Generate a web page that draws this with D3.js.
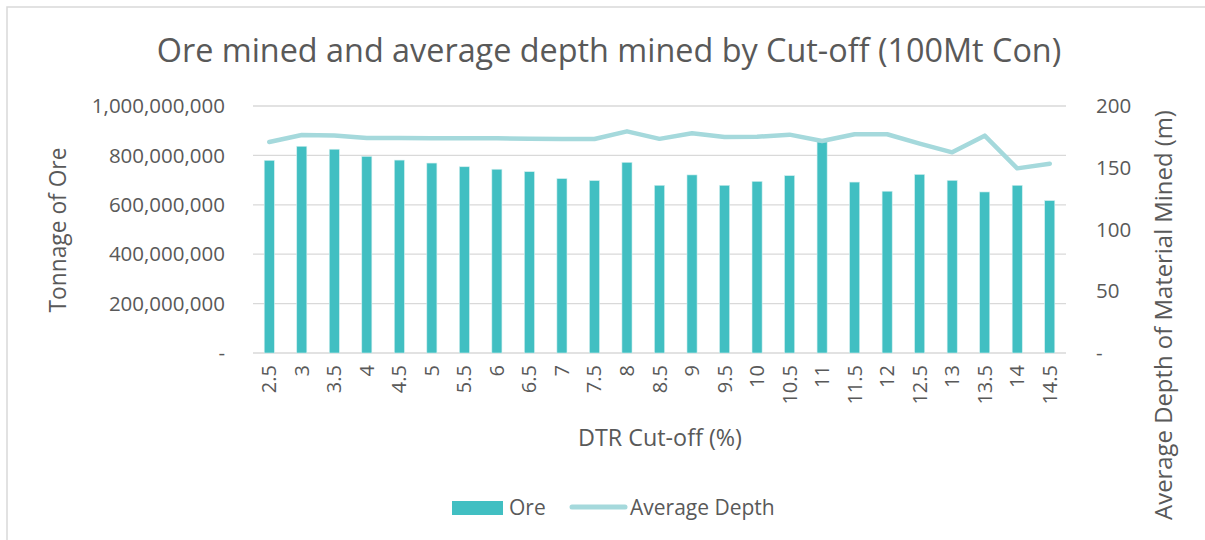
<!DOCTYPE html>
<html>
<head>
<meta charset="utf-8">
<script src="https://cdn.jsdelivr.net/npm/d3@7"></script>
<style>
  body { margin: 0; background: #fff; }
  text { font-family: "Open Sans", sans-serif; fill: #595959; }
</style>
</head>
<body>
<div id="chart"></div>
<script>
var cutoffs = ["2.5","3","3.5","4","4.5","5","5.5","6","6.5","7","7.5","8","8.5","9","9.5","10","10.5","11","11.5","12","12.5","13","13.5","14","14.5"];
var ore = [780e6, 837e6, 825e6, 796e6, 781e6, 769e6, 754e6, 744e6, 734e6, 706e6, 698e6, 772e6, 679e6,
  721e6, 679e6, 695e6, 718e6, 855e6, 692e6, 655e6, 723e6, 699e6, 652e6, 679e6, 617e6];
var depth = [170.9, 176.5, 176.2, 174.1, 174.0, 173.8, 173.8, 173.8, 173.5, 173.3, 173.3, 179.5, 173.4,
  177.9, 174.9, 175.1, 176.8, 171.7, 177.1, 177.1, 169.5, 162.5, 176.0, 149.5, 153.3];
var leftTicks = [0, 200e6, 400e6, 600e6, 800e6, 1000e6];
var rightTicks = [0, 50, 100, 150, 200];

var W = 1205, H = 540;
var plotL = 253, plotR = 1066, plotT = 106, plotB = 353;

var svg = d3.select("#chart").append("svg")
  .attr("width", W)
  .attr("height", H);

// fit a text's font size so it spans the given width
function fit(sel, width) {
  var fs = parseFloat(sel.attr("font-size"));
  var len = sel.node().getComputedTextLength();
  sel.attr("font-size", (fs * width / len) + "px");
}

// chart frame (runs off right and bottom edge)
svg.append("rect")
  .attr("x", 7).attr("y", 7)
  .attr("width", W + 10).attr("height", H + 10)
  .attr("fill", "#fff")
  .attr("stroke", "#d9d9d9")
  .attr("stroke-width", 1.5);

var x = d3.scaleBand().domain(cutoffs).range([plotL, plotR]).paddingInner(0.69).paddingOuter(0.345);
var yL = d3.scaleLinear().domain([0, 1e9]).range([plotB, plotT]);
var yR = d3.scaleLinear().domain([0, 200]).range([plotB, plotT]);

// gridlines
svg.append("g").selectAll("line")
  .data(leftTicks)
  .enter().append("line")
  .attr("x1", plotL).attr("x2", plotR)
  .attr("y1", function(d) { return yL(d); })
  .attr("y2", function(d) { return yL(d); })
  .attr("stroke", "#d9d9d9")
  .attr("stroke-width", 1.3);

var fmt = d3.format(",");
svg.append("g").selectAll("text")
  .data(leftTicks)
  .enter().append("text")
  .attr("x", 225)
  .attr("y", function(d) { return yL(d); })
  .attr("dy", "0.35em")
  .attr("text-anchor", "end")
  .attr("font-size", "20.5px")
  .text(function(d) { return d === 0 ? "-" : fmt(d); });

svg.append("g").selectAll("text")
  .data(rightTicks)
  .enter().append("text")
  .attr("x", 1096)
  .attr("y", function(d) { return yR(d); })
  .attr("dy", "0.35em")
  .attr("text-anchor", "start")
  .attr("font-size", "20.5px")
  .text(function(d) { return d === 0 ? "-" : d; });

// bars
svg.append("g").selectAll("rect")
  .data(ore)
  .enter().append("rect")
  .attr("x", function(d, i) { return x(cutoffs[i]); })
  .attr("y", function(d) { return yL(d); })
  .attr("width", x.bandwidth())
  .attr("height", function(d) { return plotB - yL(d); })
  .attr("fill", "#41bfc2")
  .attr("stroke", "#d2efef")
  .attr("stroke-width", 0.6);

// line
var line = d3.line()
  .x(function(d, i) { return x(cutoffs[i]) + x.bandwidth() / 2; })
  .y(function(d) { return yR(d); });

svg.append("path")
  .datum(depth)
  .attr("d", line)
  .attr("fill", "none")
  .attr("stroke", "#a5d9dc")
  .attr("stroke-width", 4.5)
  .attr("stroke-linejoin", "round")
  .attr("stroke-linecap", "round");

// x labels
svg.append("g").selectAll("text")
  .data(cutoffs)
  .enter().append("text")
  .attr("transform", function(d) {
    return "translate(" + (x(d) + x.bandwidth() / 2) + ",365) rotate(-90)";
  })
  .attr("dy", "0.35em")
  .attr("text-anchor", "end")
  .attr("font-size", "20px")
  .text(function(d) { return d; });

// titles
var title = svg.append("text")
  .attr("x", 609).attr("y", 62)
  .attr("text-anchor", "middle")
  .attr("font-size", "32px")
  .text("Ore mined and average depth mined by Cut-off (100Mt Con)");
fit(title, 905);

var xt = svg.append("text")
  .attr("x", 660).attr("y", 446)
  .attr("text-anchor", "middle")
  .attr("font-size", "23px")
  .text("DTR Cut-off (%)");
fit(xt, 164);

var ylt = svg.append("text")
  .attr("transform", "translate(58,230) rotate(-90)")
  .attr("dy", "0.35em")
  .attr("text-anchor", "middle")
  .attr("font-size", "23px")
  .text("Tonnage of Ore");
fit(ylt, 165);

var yrt = svg.append("text")
  .attr("transform", "translate(1164,315) rotate(-90)")
  .attr("dy", "0.35em")
  .attr("text-anchor", "middle")
  .attr("font-size", "23px")
  .text("Average Depth of Material Mined (m)");
fit(yrt, 410);

// legend
var lg = svg.append("g");
lg.append("rect")
  .attr("x", 452).attr("y", 501)
  .attr("width", 51).attr("height", 14)
  .attr("fill", "#41bfc2");
lg.append("text")
  .attr("x", 509).attr("y", 508)
  .attr("dy", "0.35em")
  .attr("font-size", "21px")
  .text("Ore");
lg.append("line")
  .attr("x1", 572).attr("x2", 625)
  .attr("y1", 507).attr("y2", 507)
  .attr("stroke", "#a5d9dc")
  .attr("stroke-width", 5)
  .attr("stroke-linecap", "round");
lg.append("text")
  .attr("x", 630).attr("y", 508)
  .attr("dy", "0.35em")
  .attr("font-size", "21px")
  .text("Average Depth");
</script>
</body>
</html>
